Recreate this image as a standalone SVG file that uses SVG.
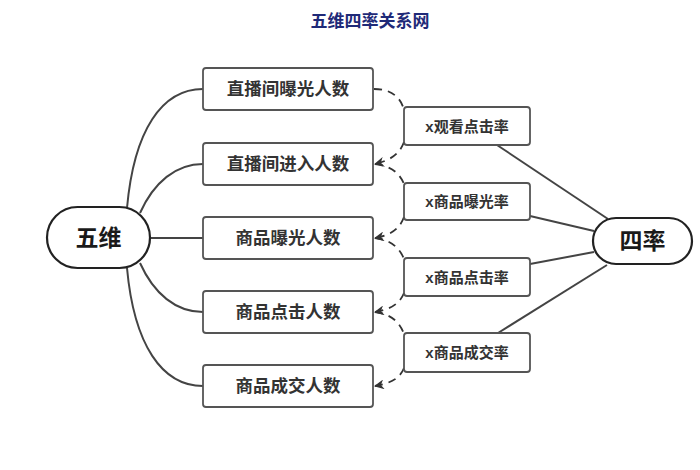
<svg xmlns="http://www.w3.org/2000/svg" width="700" height="470" viewBox="0 0 700 470">
<defs>
<marker id="arr" viewBox="0 0 10 10" refX="9" refY="5" markerWidth="10" markerHeight="10" markerUnits="userSpaceOnUse" orient="auto">
<path d="M0,0 L10,5 L0,10 L3,5 z" fill="#333"/>
</marker>
<style>
.box{fill:#fff;stroke:#555;stroke-width:1.8}
.oval{fill:#fff;stroke:#222;stroke-width:2.2}
.t{font-family:"Liberation Sans","Noto Sans CJK SC",sans-serif;font-weight:bold;fill:#333;text-anchor:middle;dominant-baseline:central}
.tl{font-size:17.5px}
.tr{font-size:15px}
.tb{font-size:23px;fill:#1a1a1a}
.solid{fill:none;stroke:#444;stroke-width:2}
.dash{fill:none;stroke:#333;stroke-width:1.8;stroke-dasharray:8 6}
</style>
</defs>
<rect width="700" height="470" fill="#fff"/>
<text x="370" y="21" class="t" style="font-size:17px;fill:#1f2a78">五维四率关系网</text>

<g id="connectors">
<path class="solid" d="M127,208 C134,130 162,89 203,89"/>
<path class="solid" d="M140,213 C154,182 176,164 203,164"/>
<path class="solid" d="M150,238 L203,238"/>
<path class="solid" d="M140,263 C154,294 176,312 203,312"/>
<path class="solid" d="M127,268 C134,345 162,386 203,386"/>

<path class="solid" d="M497,145 L608,219"/>
<path class="solid" d="M530,216 L594,231"/>
<path class="solid" d="M530,264 L594,252"/>
<path class="solid" d="M498,333 L607,265"/>

<path class="dash" d="M374,89 C392,89 401,98 404,110"/>
<path class="dash" d="M404,142 C400,153 392,160 375,164" marker-end="url(#arr)"/>
<path class="dash" d="M375,164 C392,166 400,174 404,184"/>
<path class="dash" d="M404,217 C400,228 392,235 375,238" marker-end="url(#arr)"/>
<path class="dash" d="M375,238 C392,240 400,249 404,259"/>
<path class="dash" d="M404,293 C400,303 392,309 375,312" marker-end="url(#arr)"/>
<path class="dash" d="M375,312 C392,314 400,323 404,334"/>
<path class="dash" d="M404,368 C400,378 392,383 375,386" marker-end="url(#arr)"/>
</g>

<g id="wuwei"><rect class="oval" x="47" y="207" width="103" height="61" rx="30.5"/><text class="t tb" x="98.5" y="238">五维</text></g>
<g id="silv"><rect class="oval" x="593" y="218" width="99" height="46" rx="23"/><text class="t tb" x="642.5" y="241">四率</text></g>

<g id="n1"><rect class="box" x="203" y="68" width="170" height="42" rx="3"/><text class="t tl" x="288" y="89">直播间曝光人数</text></g>
<g id="n2"><rect class="box" x="203" y="143" width="170" height="42" rx="3"/><text class="t tl" x="288" y="164">直播间进入人数</text></g>
<g id="n3"><rect class="box" x="203" y="217" width="170" height="42" rx="3"/><text class="t tl" x="288" y="238">商品曝光人数</text></g>
<g id="n4"><rect class="box" x="203" y="291" width="170" height="42" rx="3"/><text class="t tl" x="288" y="312">商品点击人数</text></g>
<g id="n5"><rect class="box" x="203" y="365" width="170" height="42" rx="3"/><text class="t tl" x="288" y="386">商品成交人数</text></g>

<g id="r1"><rect class="box" x="404" y="107" width="126" height="38" rx="3"/><text class="t tr" x="467" y="126">x观看点击率</text></g>
<g id="r2"><rect class="box" x="404" y="183" width="126" height="37" rx="3"/><text class="t tr" x="467" y="201.5">x商品曝光率</text></g>
<g id="r3"><rect class="box" x="404" y="258" width="126" height="38" rx="3"/><text class="t tr" x="467" y="277">x商品点击率</text></g>
<g id="r4"><rect class="box" x="404" y="333" width="126" height="39" rx="3"/><text class="t tr" x="467" y="352.5">x商品成交率</text></g>
</svg>
